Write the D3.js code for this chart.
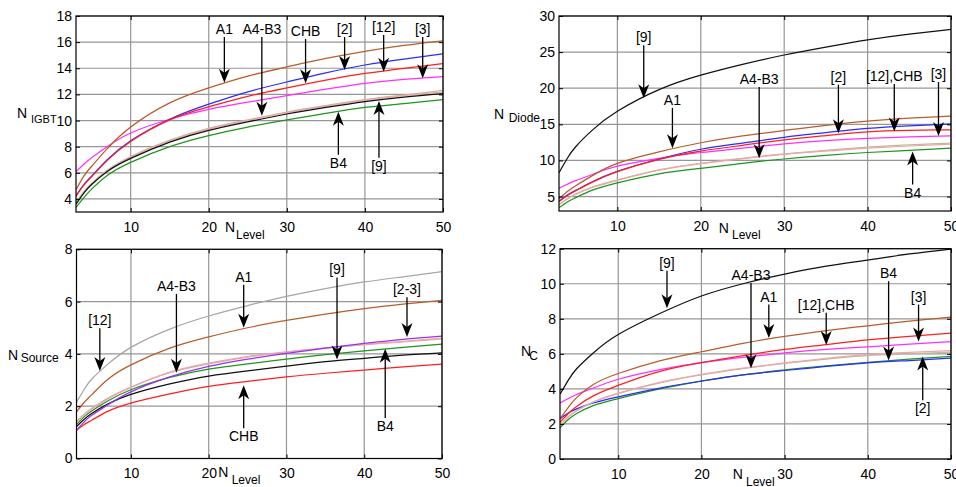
<!DOCTYPE html>
<html><head><meta charset="utf-8">
<script src="https://cdn.jsdelivr.net/npm/d3@7"></script>
<style>
body{margin:0;background:#fff}
svg{display:block}
text{font-family:"Liberation Sans",Arial,Helvetica,sans-serif;fill:#000}
</style>
</head><body>
<svg id="chart" width="956" height="487"></svg>
<script>
// ---------------- DATA ----------------
const nLevel = [3, 4, 5, 7, 10, 15, 20, 25, 30, 35, 40, 45, 50];
const xTicks = [10, 20, 30, 40, 50];

// Panel 1: N_IGBT
const igbtA1   = [4.7, 5.75, 6.5, 7.85, 9.5, 11.35, 12.5, 13.4, 14.1, 14.75, 15.3, 15.75, 16.1];
const igbtRef2 = [4.25, 5.1, 5.75, 7.0, 8.45, 10.1, 11.25, 12.2, 12.95, 13.65, 14.25, 14.7, 15.1];
const igbtCHB  = [4.2, 5.05, 5.7, 6.95, 8.4, 10.05, 11.05, 11.85, 12.5, 13.1, 13.6, 14.0, 14.35];
const igbtRef3 = [6.1, 6.65, 7.15, 8.0, 9.05, 10.1, 10.85, 11.4, 11.9, 12.4, 12.85, 13.15, 13.37];
const igbtA4   = [3.75, 4.55, 5.2, 6.2, 7.25, 8.5, 9.4, 10.05, 10.65, 11.15, 11.6, 11.95, 12.3];
const igbtB3   = [3.7, 4.5, 5.15, 6.15, 7.2, 8.45, 9.35, 10.0, 10.6, 11.1, 11.55, 11.9, 12.2];
const igbtRef9 = [3.6, 4.45, 5.1, 6.1, 7.1, 8.35, 9.25, 9.9, 10.5, 11.0, 11.45, 11.8, 12.06];
const igbtB4   = [3.35, 4.1, 4.75, 5.8, 6.8, 8.0, 8.85, 9.5, 10.05, 10.55, 11.0, 11.3, 11.6];
const igbtTicks = [4, 6, 8, 10, 12, 14, 16, 18];
// annotations: [label, N_Level, labelValue, tipValue]
const igbtNotes = [
  ["A1", 22.0, 17.0, 12.9], ["A4-B3", 26.8, 17.0, 10.37], ["CHB", 32.4, 16.85, 12.85],
  ["[2]", 37.4, 17.0, 13.87], ["[12]", 42.4, 17.16, 13.74], ["[3]", 47.4, 17.0, 13.23],
  ["B4", 36.6, 6.77, 10.68], ["[9]", 41.8, 6.54, 11.5]
];

// Panel 2: N_Diode
const dioRef9 = [8.3, 10.3, 11.9, 14.2, 16.8, 19.8, 21.8, 23.3, 24.6, 25.7, 26.7, 27.5, 28.15];
const dioA1   = [4.7, 5.7, 6.5, 7.9, 9.6, 11.2, 12.45, 13.4, 14.15, 14.85, 15.45, 15.85, 16.15];
const dioRef3 = [6.15, 6.7, 7.2, 8.05, 9.2, 10.3, 11.1, 11.7, 12.3, 12.75, 13.05, 13.25, 13.4];
const dioRef2 = [4.35, 5.2, 5.85, 7.05, 8.5, 10.2, 11.55, 12.4, 13.2, 13.85, 14.45, 14.8, 15.05];
const dioCHB  = [4.3, 5.15, 5.8, 7.0, 8.45, 10.15, 11.3, 12.1, 12.85, 13.45, 13.95, 14.15, 14.25];
const dioA4   = [3.9, 4.7, 5.35, 6.3, 7.3, 8.7, 9.6, 10.3, 10.9, 11.4, 11.85, 12.15, 12.4];
const dioB3   = [3.85, 4.65, 5.3, 6.25, 7.25, 8.65, 9.55, 10.25, 10.85, 11.3, 11.7, 12.0, 12.25];
const dioB4   = [3.45, 4.25, 4.85, 5.9, 6.9, 8.15, 8.9, 9.6, 10.2, 10.7, 11.1, 11.4, 11.7];
const dioTicks = [5, 10, 15, 20, 25, 30];
const dioNotes = [
  ["[9]", 13.16, 27.05, 18.62], ["A1", 16.6, 18.38, 11.7], ["A4-B3", 27.0, 21.29, 10.32],
  ["[2]", 36.5, 21.6, 13.78], ["[12],CHB", 43.2, 21.7, 14.0], ["[3]", 48.5, 21.98, 13.4],
  ["B4", 45.4, 5.56, 11.23]
];

// Panel 3: N_Source
const srcRef12 = [2.15, 2.65, 3.05, 3.6, 4.25, 4.95, 5.45, 5.85, 6.2, 6.5, 6.75, 6.95, 7.15];
const srcA1    = [1.78, 2.15, 2.45, 3.02, 3.58, 4.22, 4.65, 5.0, 5.28, 5.52, 5.73, 5.9, 6.05];
const srcRef23 = [1.08, 1.4, 1.66, 2.05, 2.55, 3.12, 3.52, 3.8, 4.02, 4.22, 4.4, 4.56, 4.68];
const srcA4    = [1.42, 1.7, 1.92, 2.3, 2.73, 3.28, 3.62, 3.88, 4.07, 4.22, 4.36, 4.48, 4.6];
const srcB3    = [1.38, 1.68, 1.9, 2.28, 2.72, 3.3, 3.65, 3.9, 4.08, 4.23, 4.35, 4.46, 4.57];
const srcB4    = [1.3, 1.6, 1.83, 2.2, 2.63, 3.1, 3.42, 3.62, 3.8, 3.97, 4.12, 4.25, 4.37];
const srcRef9  = [1.22, 1.5, 1.73, 2.08, 2.45, 2.85, 3.15, 3.35, 3.53, 3.7, 3.83, 3.95, 4.04];
const srcCHB   = [1.08, 1.3, 1.47, 1.8, 2.12, 2.47, 2.76, 2.95, 3.12, 3.26, 3.38, 3.5, 3.61];
const srcTicks = [0, 2, 4, 6, 8];
const srcNotes = [
  ["[12]", 6.0, 5.29, 3.35], ["A4-B3", 15.85, 6.6, 3.28], ["A1", 24.5, 6.95, 5.0],
  ["[9]", 36.5, 7.23, 3.79], ["[2-3]", 45.5, 6.47, 4.65],
  ["CHB", 24.5, 0.85, 2.8], ["B4", 42.7, 1.24, 4.2]
];

// Panel 4: N_C
const cRef9 = [3.7, 4.5, 5.15, 6.05, 7.1, 8.3, 9.3, 10.0, 10.55, 11.0, 11.35, 11.7, 11.98];
const cA1   = [2.3, 2.95, 3.5, 4.25, 4.88, 5.6, 6.12, 6.6, 7.0, 7.33, 7.6, 7.87, 8.1];
const cCHB  = [2.1, 2.6, 3.0, 3.6, 4.2, 5.0, 5.5, 5.9, 6.25, 6.53, 6.8, 7.0, 7.18];
const cRef3 = [3.2, 3.45, 3.68, 4.05, 4.55, 5.1, 5.5, 5.8, 6.05, 6.25, 6.4, 6.56, 6.7];
const cA4   = [1.95, 2.4, 2.75, 3.25, 3.75, 4.35, 4.8, 5.15, 5.45, 5.7, 5.9, 6.0, 6.1];
const cB3   = [1.95, 2.4, 2.75, 3.25, 3.75, 4.37, 4.83, 5.18, 5.48, 5.74, 5.95, 6.08, 6.18];
const cRef2 = [2.3, 2.62, 2.86, 3.2, 3.55, 4.05, 4.45, 4.8, 5.05, 5.28, 5.48, 5.62, 5.76];
const cB4   = [1.78, 2.25, 2.6, 3.05, 3.45, 4.0, 4.45, 4.8, 5.08, 5.32, 5.52, 5.7, 5.86];
const cTicks = [0, 2, 4, 6, 8, 10, 12];
const cNotes = [
  ["[9]", 15.86, 11.2, 8.6], ["A4-B3", 25.96, 10.5, 5.18], ["A1", 28.1, 9.27, 6.9],
  ["[12],CHB", 35.0, 8.8, 6.51], ["B4", 42.5, 10.6, 5.62], ["[3]", 46.1, 9.27, 6.7],
  ["[2]", 46.6, 2.9, 5.85]
];

// ---------------- STYLE / LAYOUT ----------------
const C = {
  brown: "#bb5c2c", blue: "#2b2bff", red: "#ff1f1f", magenta: "#ff2eff",
  tan: "#bcbc98", pink: "#f2a3ad", green: "#1c961c", black: "#111111",
  gray: "#a6a6a6", purple: "#9b30f2"
};

const panels = [
  { box: [76, 443, 16, 212], yDom: [3, 18], yTicks: igbtTicks, notes: igbtNotes,
    series: [[igbtA4, C.tan], [igbtB3, C.pink], [igbtB4, C.green], [igbtRef9, C.black],
             [igbtRef3, C.magenta], [igbtRef2, C.blue], [igbtCHB, C.red], [igbtA1, C.brown]],
    ylab: { sub: "IGBT", x: 17, y: 118.3, sx: 31, sy: 122.7, fs: 11 },
    xlab: { x: 225, y: 231.7, sx: 236, sy: 238.5 } },
  { box: [559, 951, 16, 211], yDom: [3, 30], yTicks: dioTicks, notes: dioNotes,
    series: [[dioA4, C.tan], [dioB3, C.pink], [dioB4, C.green], [dioRef3, C.magenta],
             [dioRef2, C.blue], [dioCHB, C.red], [dioA1, C.brown], [dioRef9, C.black]],
    ylab: { sub: "Diode", x: 494, y: 119, sx: 508.7, sy: 121.7, fs: 12 },
    xlab: { x: 718.7, y: 233, sx: 732, sy: 238.5 } },
  { box: [76.5, 442, 249.3, 458.5], yDom: [0, 8], yTicks: srcTicks, notes: srcNotes,
    series: [[srcCHB, C.red], [srcRef9, C.black], [srcB4, C.green], [srcA4, C.tan],
             [srcB3, C.pink], [srcRef23, C.purple], [srcA1, C.brown], [srcRef12, C.gray]],
    ylab: { sub: "Source", x: 8, y: 360, sx: 20.7, sy: 361.7, fs: 12 },
    xlab: { x: 218.3, y: 477.3, sx: 231.7, sy: 483.5 } },
  { box: [560, 951, 248.7, 459], yDom: [0, 12], yTicks: cTicks, notes: cNotes,
    series: [[cB4, C.green], [cRef2, C.blue], [cA4, C.tan], [cB3, C.pink],
             [cRef3, C.magenta], [cCHB, C.red], [cA1, C.brown], [cRef9, C.black]],
    ylab: { sub: "C", x: 521, y: 356, sx: 529.3, sy: 360, fs: 12 },
    xlab: { x: 732.7, y: 479, sx: 746, sy: 486 } }
];

// ---------------- DRAW ----------------
const svg = d3.select("#chart");
const defs = svg.append("defs");

panels.forEach((p, i) => {
  const [L, R, T, B] = p.box;
  const x = d3.scaleLinear().domain([3, 50]).range([L, R]);
  const y = d3.scaleLinear().domain(p.yDom).range([B, T]);
  const g = svg.append("g");

  defs.append("clipPath").attr("id", "clip" + i)
    .append("rect").attr("x", L).attr("y", T).attr("width", R - L).attr("height", B - T);

  // grid
  g.append("g").selectAll("line").data(xTicks).join("line")
    .attr("x1", d => x(d)).attr("x2", d => x(d)).attr("y1", T).attr("y2", B)
    .attr("stroke", "#969696").attr("stroke-width", 1.2);
  g.append("g").selectAll("line").data(p.yTicks).join("line")
    .attr("x1", L).attr("x2", R).attr("y1", d => y(d)).attr("y2", d => y(d))
    .attr("stroke", "#969696").attr("stroke-width", 1.2);

  // series
  const line = d3.line().x((d, k) => x(nLevel[k])).y(d => y(d)).curve(d3.curveNatural);
  const lg = g.append("g").attr("clip-path", `url(#clip${i})`);
  p.series.forEach(([vals, col]) => {
    lg.append("path").datum(vals).attr("d", line)
      .attr("fill", "none").attr("stroke", col).attr("stroke-width", 1.25);
  });

  // axes (MATLAB-style inward ticks on all sides)
  const ax = (gen, tr) => {
    const a = g.append("g").attr("transform", tr).call(gen);
    a.select(".domain").remove();
    a.selectAll(".tick line").attr("stroke", "#000");
    return a;
  };
  const xb = ax(d3.axisBottom(x).tickValues(xTicks).tickSize(-4).tickPadding(10), `translate(0,${B})`);
  xb.selectAll("text").attr("font-size", 14);
  ax(d3.axisTop(x).tickValues(xTicks).tickSize(-4).tickFormat(""), `translate(0,${T})`);
  const yl = ax(d3.axisLeft(y).tickValues(p.yTicks).tickSize(-4).tickPadding(4), `translate(${L},0)`);
  yl.selectAll("text").attr("font-size", 14);
  ax(d3.axisRight(y).tickValues(p.yTicks).tickSize(-4).tickFormat(""), `translate(${R},0)`);
  g.selectAll(".tick text").attr("font-family", "Liberation Sans, Arial, sans-serif").attr("fill", "#000");

  // frame
  g.append("rect").attr("x", L).attr("y", T).attr("width", R - L).attr("height", B - T)
    .attr("fill", "none").attr("stroke", "#000").attr("stroke-width", 1.2);

  // axis labels
  g.append("text").attr("x", p.ylab.x).attr("y", p.ylab.y).attr("font-size", 14).text("N");
  g.append("text").attr("x", p.ylab.sx).attr("y", p.ylab.sy).attr("font-size", p.ylab.fs).text(p.ylab.sub);
  g.append("text").attr("x", p.xlab.x).attr("y", p.xlab.y).attr("font-size", 14).text("N");
  g.append("text").attr("x", p.xlab.sx).attr("y", p.xlab.sy).attr("font-size", 12).text("Level");

  // annotations (label + arrow)
  const ng = g.append("g");
  p.notes.forEach(([lab, nx, ly, ty]) => {
    const px = x(nx), pyL = y(ly), pyT = y(ty);
    const down = pyT > pyL;
    const dir = down ? 1 : -1;
    ng.append("text").attr("x", px).attr("y", pyL).attr("dy", "0.36em")
      .attr("text-anchor", "middle").attr("font-size", 14).text(lab);
    const tail = pyL + dir * 8;
    ng.append("line").attr("x1", px).attr("x2", px).attr("y1", tail).attr("y2", pyT - dir * 8)
      .attr("stroke", "#000").attr("stroke-width", 1.3);
    const hl = 14, hw = 5.5, notch = 10;
    const pts = [[px, pyT], [px - hw, pyT - dir * hl], [px, pyT - dir * notch], [px + hw, pyT - dir * hl]];
    ng.append("path").attr("d", "M" + pts.map(q => q.join(",")).join("L") + "Z").attr("fill", "#000");
  });
});
</script>
</body></html>
